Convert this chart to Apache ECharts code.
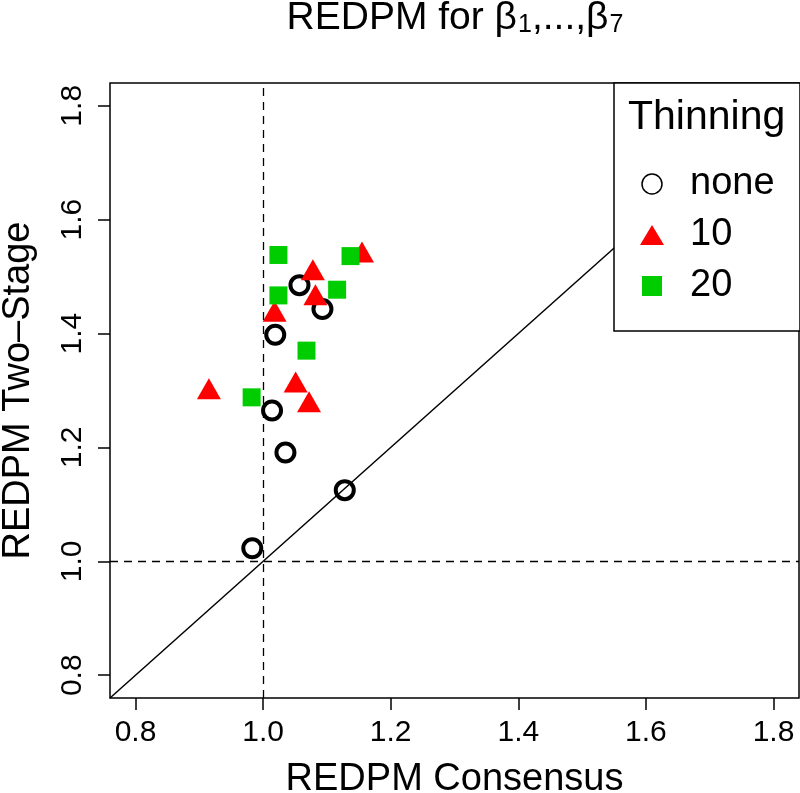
<!DOCTYPE html>
<html>
<head>
<meta charset="utf-8">
<script src="https://cdn.jsdelivr.net/npm/echarts@6/dist/echarts.min.js"></script>
<style>
html,body{margin:0;padding:0;background:#fff;}
#chart{width:800px;height:793px;}
</style>
</head>
<body>
<div id="chart"></div>
<script>
// ---- data ----
var xNone = [1.057, 1.093, 1.019, 1.014, 1.035, 1.128, 0.983];
var yNone = [1.485, 1.443, 1.398, 1.265, 1.191, 1.125, 1.023];
var x10 = [1.155, 1.078, 1.082, 1.018, 0.915, 1.051, 1.072];
var y10 = [1.537, 1.506, 1.462, 1.433, 1.297, 1.309, 1.274];
var x20 = [1.024, 1.137, 1.024, 1.116, 1.068, 0.982];
var y20 = [1.538, 1.536, 1.467, 1.477, 1.370, 1.288];
var seriesNames = ['none', '10', '20'];
var tickValues = [0.8, 1.0, 1.2, 1.4, 1.6, 1.8];
var axisMin = 0.76, axisMax = 1.84;
var diagLine = [[0.76, 0.76], [1.84, 1.84]];
var refX = 1.0, refY = 1.0;

function pairs(xs, ys) { return xs.map(function (x, i) { return [x, ys[i]]; }); }

var FONT = '"Liberation Sans", Arial, Helvetica, sans-serif';
var chart = echarts.init(document.getElementById('chart'), null, {renderer: 'canvas'});

var option = {
  animation: false,
  backgroundColor: '#ffffff',
  title: {
    text: 'REDPM for β{sub|1},...,β{sub|7}',
    left: 455,
    textAlign: 'center',
    top: -1,
    padding: 0,
    textStyle: {
      fontFamily: FONT, fontSize: 39, fontWeight: 'normal', color: '#000',
      lineHeight: 39,
      rich: {
        sub: {fontFamily: FONT, fontSize: 25, lineHeight: 25, verticalAlign: 'bottom', padding: [18, 0, 0, 1], color: '#000'}
      }
    }
  },
  grid: {
    left: 110, right: 1, top: 83, bottom: 95,
    outerBoundsMode: 'none', containLabel: false,
    show: true, borderColor: '#000', borderWidth: 1.5, backgroundColor: 'transparent'
  },
  xAxis: {
    type: 'value', min: axisMin, max: axisMax,
    name: 'REDPM Consensus', nameLocation: 'middle', nameGap: 63, nameMoveOverlap: false,
    nameTextStyle: {fontFamily: FONT, fontSize: 38, color: '#000'},
    axisLine: {show: false},
    splitLine: {show: false},
    axisTick: {show: true, length: 12, lineStyle: {color: '#000', width: 1.5}, customValues: tickValues},
    axisLabel: {show: true, margin: 20, fontFamily: FONT, fontSize: 30, color: '#000',
      customValues: tickValues, formatter: function (v) { return v.toFixed(1); }}
  },
  yAxis: {
    type: 'value', min: axisMin, max: axisMax,
    name: 'REDPM Two–Stage', nameLocation: 'middle', nameGap: 72, nameRotate: 90, nameMoveOverlap: false,
    nameTextStyle: {fontFamily: FONT, fontSize: 38, color: '#000'},
    axisLine: {show: false},
    splitLine: {show: false},
    axisTick: {show: true, length: 12, lineStyle: {color: '#000', width: 1.5}, customValues: tickValues},
    axisLabel: {show: true, margin: 22, rotate: 90, fontFamily: FONT, fontSize: 30, color: '#000',
      customValues: tickValues, formatter: function (v) { return v.toFixed(1); }}
  },
  legend: {
    orient: 'vertical',
    left: 640, top: 165,
    padding: 0,
    itemWidth: 24, itemHeight: 20, itemGap: 13,
    z: 10,
    selectedMode: false,
    textStyle: {fontFamily: FONT, fontSize: 38, lineHeight: 36, color: '#000', padding: [0, 0, 0, 21]},
    data: [
      {name: seriesNames[0], icon: 'circle', itemStyle: {color: '#fff', borderColor: '#000', borderWidth: 1.5, opacity: 1}},
      {name: seriesNames[1], icon: 'triangle', itemStyle: {color: '#ff0000', borderWidth: 0, opacity: 1}},
      {name: seriesNames[2], icon: 'path://M0,0L1,0L1,1L0,1Z', itemStyle: {color: '#00cd00', borderWidth: 0, opacity: 1}}
    ]
  },
  graphic: [
    {type: 'rect', z: 9, shape: {x: 614, y: 83, width: 186, height: 248},
      style: {fill: '#fff', stroke: '#000', lineWidth: 1.5}},
    {type: 'text', z: 10, style: {text: 'Thinning', x: 628, y: 118, font: '41px "Liberation Sans", Arial, sans-serif', fill: '#000', verticalAlign: 'middle', align: 'left'}}
  ],
  series: [
    {
      type: 'line', data: diagLine, symbol: 'none', silent: true, z: 1,
      lineStyle: {color: '#000', width: 1.5}, clip: true,
      markLine: {
        symbol: ['none', 'none'], silent: true, label: {show: false},
        lineStyle: {type: [8, 6], color: '#000', width: 1.3},
        data: [{xAxis: refX}, {yAxis: refY}]
      }
    },
    {
      name: seriesNames[0], type: 'scatter', data: pairs(xNone, yNone), z: 3,
      symbol: 'circle', symbolSize: 18,
      itemStyle: {color: 'transparent', borderColor: '#000', borderWidth: 4, opacity: 1}
    },
    {
      name: seriesNames[1], type: 'scatter', data: pairs(x10, y10), z: 4,
      symbol: 'triangle', symbolSize: [24, 21], symbolOffset: [0, -3.5],
      itemStyle: {color: '#ff0000', opacity: 1}
    },
    {
      name: seriesNames[2], type: 'scatter', data: pairs(x20, y20), z: 5,
      symbol: 'rect', symbolSize: 18,
      itemStyle: {color: '#00cd00', opacity: 1}
    }
  ]
};
chart.setOption(option);
</script>
</body>
</html>
